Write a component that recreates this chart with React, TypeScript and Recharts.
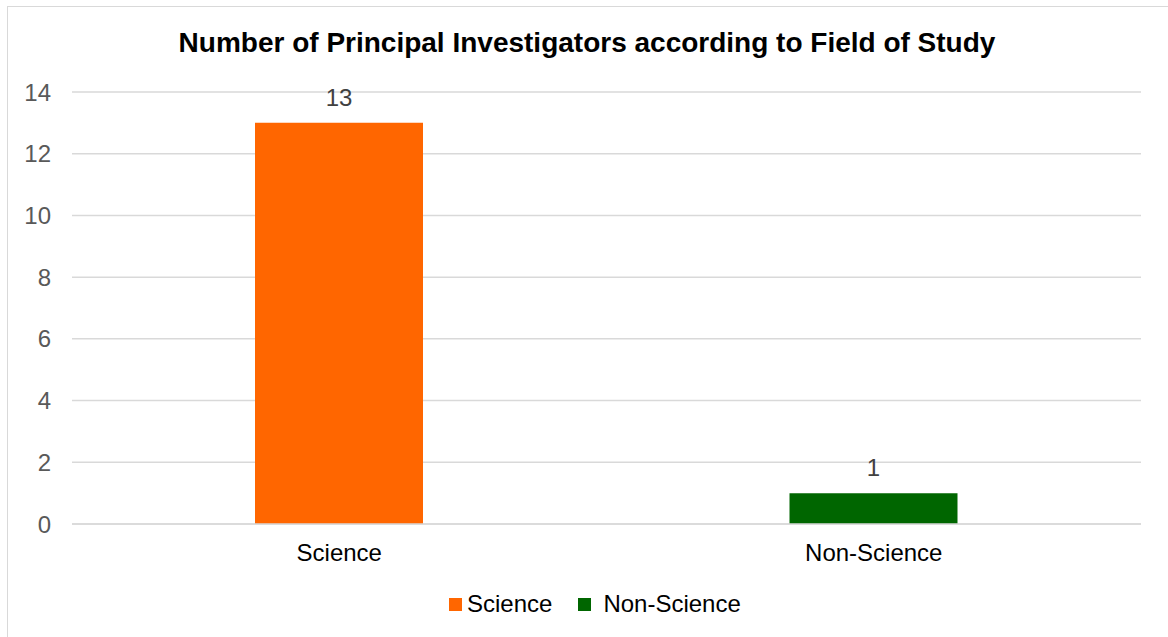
import { BarChart, Bar, XAxis, YAxis, CartesianGrid, LabelList, Legend, Cell } from "recharts";

const CATEGORIES = ["Science", "Non-Science"];
const VALUES = [13, 1];
const COLORS = ["#FF6600", "#006600"];
const Y_TICKS = [0, 2, 4, 6, 8, 10, 12, 14];

const FONT = '"Liberation Sans", Arial, sans-serif';

const data = CATEGORIES.map((name, i) => ({ name, value: VALUES[i] }));

function LegendContent() {
  return (
    <div style={{ display: "flex", alignItems: "center", fontFamily: FONT, fontSize: 24, color: "#000" }}>
      {CATEGORIES.map((c, i) => (
        <div key={c} style={{ display: "flex", alignItems: "center", marginRight: i === 0 ? 26 : 0 }}>
          <span style={{ width: 13, height: 13, background: COLORS[i], display: "inline-block", marginRight: i === 0 ? 5 : 12 }} />
          <span>{c}</span>
        </div>
      ))}
    </div>
  );
}

export default function App() {
  return (
    <div style={{ position: "fixed", left: 0, top: 0, width: 1168, height: 637, background: "#fff", overflow: "hidden" }}>
      <div
        style={{
          position: "absolute", left: 7, top: 6, width: 1200, height: 700,
          borderLeft: "1.5px solid #d9d9d9", borderTop: "1.5px solid #d9d9d9",
        }}
      />
      <div
        style={{
          position: "absolute", left: 0, top: 29, width: 1168, paddingLeft: 6, boxSizing: "border-box",
          textAlign: "center", fontFamily: FONT, fontSize: 28, lineHeight: "28px", fontWeight: "bold", color: "#000",
        }}
      >
        Number of Principal Investigators according to Field of Study
      </div>
      <div style={{ position: "absolute", left: 0, top: 0 }}>
        <BarChart width={1168} height={637} data={data} margin={{ top: 92, right: 27, bottom: 73, left: 0 }}>
          <CartesianGrid vertical={false} stroke="#d9d9d9" strokeWidth={1.5} />
          <XAxis
            dataKey="name"
            axisLine={{ stroke: "#d9d9d9", strokeWidth: 1.5 }}
            tickLine={false}
            tickSize={0}
            tickMargin={20}
            height={40}
            tick={{ fill: "#000", fontSize: 24, fontFamily: FONT }}
          />
          <YAxis
            domain={[0, 14]}
            ticks={Y_TICKS}
            axisLine={false}
            tickLine={false}
            tickSize={0}
            tickMargin={21}
            width={72}
            tick={{ fill: "#595959", fontSize: 24, fontFamily: FONT }}
          />
          <Legend
            verticalAlign="middle"
            align="center"
            layout="horizontal"
            content={<LegendContent />}
            wrapperStyle={{ top: 590, left: 449, width: "auto", height: "auto" }}
          />
          <Bar dataKey="value" barSize={168} isAnimationActive={false}>
            {data.map((d, i) => (
              <Cell key={d.name} fill={COLORS[i]} />
            ))}
            <LabelList dataKey="value" position="top" offset={17} fill="#404040" fontSize={24} fontFamily={FONT} />
          </Bar>
        </BarChart>
      </div>
    </div>
  );
}
